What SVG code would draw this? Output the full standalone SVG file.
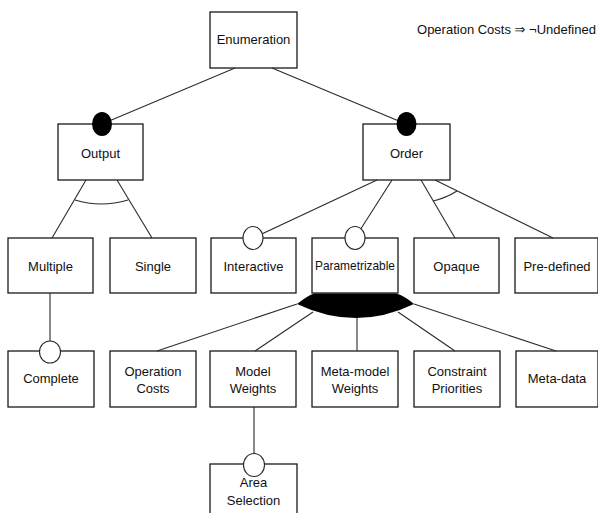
<svg xmlns="http://www.w3.org/2000/svg" width="598" height="513" viewBox="0 0 598 513">
<style>
.box{fill:#fff;stroke:#1a1a1a;stroke-width:1.3}
.lbl{font-family:"Liberation Sans","DejaVu Sans",Arial,sans-serif;font-size:13px;fill:#111;text-anchor:middle}
.ln{stroke:#2a2a2a;stroke-width:1.1;fill:none}
.opt{fill:#fff;stroke:#2a2a2a;stroke-width:1.1}
.man{fill:#000;stroke:none}
</style>
<rect width="598" height="513" fill="#fff"/>
<text class="lbl" x="506.5" y="33.5">Operation Costs ⇒ ¬Undefined</text>
<g id="enumeration"><rect class="box" x="210" y="12" width="87" height="56"/><text class="lbl" x="253.5" y="44">Enumeration</text></g>
<g id="output"><rect class="box" x="58" y="124" width="85" height="56"/><text class="lbl" x="100.5" y="157.5">Output</text></g>
<g id="order"><rect class="box" x="363" y="124" width="87" height="56"/><text class="lbl" x="406.5" y="157.5">Order</text></g>
<g id="multiple"><rect class="box" x="8" y="238" width="85" height="55"/><text class="lbl" x="50.5" y="270.5">Multiple</text></g>
<g id="single"><rect class="box" x="110" y="238" width="86" height="55"/><text class="lbl" x="153" y="270.5">Single</text></g>
<g id="interactive"><rect class="box" x="211" y="238" width="85" height="55"/><text class="lbl" x="253.5" y="270.5">Interactive</text></g>
<g id="parametrizable"><rect class="box" x="312" y="238" width="86" height="55"/><text class="lbl" x="355" y="269.5" textLength="80" lengthAdjust="spacingAndGlyphs">Parametrizable</text></g>
<g id="opaque"><rect class="box" x="414" y="238" width="85" height="55"/><text class="lbl" x="456.5" y="270.5">Opaque</text></g>
<g id="predefined"><rect class="box" x="515" y="238" width="83" height="55"/><text class="lbl" x="557" y="270.5">Pre-defined</text></g>
<g id="complete"><rect class="box" x="8" y="351" width="86" height="56"/><text class="lbl" x="51" y="382.5">Complete</text></g>
<g id="operationcosts"><rect class="box" x="110" y="351" width="86" height="56"/><text class="lbl" x="153" y="375.5">Operation</text><text class="lbl" x="153" y="392.5">Costs</text></g>
<g id="modelweights"><rect class="box" x="210" y="351" width="86" height="56"/><text class="lbl" x="253" y="375.5">Model</text><text class="lbl" x="253" y="392.5">Weights</text></g>
<g id="metamodelweights"><rect class="box" x="312" y="351" width="86" height="56"/><text class="lbl" x="355" y="375.5">Meta-model</text><text class="lbl" x="355" y="392.5">Weights</text></g>
<g id="constraintpriorities"><rect class="box" x="414" y="351" width="86" height="56"/><text class="lbl" x="457" y="375.5">Constraint</text><text class="lbl" x="457" y="392.5">Priorities</text></g>
<g id="metadata"><rect class="box" x="516" y="351" width="82" height="56"/><text class="lbl" x="557" y="382.5">Meta-data</text></g>
<g id="areaselection"><rect class="box" x="210" y="464" width="87" height="60"/><text class="lbl" x="253.5" y="486.5">Area</text><text class="lbl" x="253.5" y="504.5">Selection</text></g>
<g id="connectors">
<line class="ln" x1="235" y1="68" x2="102" y2="124"/>
<line class="ln" x1="272" y1="68" x2="406" y2="124"/>
<line class="ln" x1="86" y1="180" x2="52" y2="238"/>
<line class="ln" x1="117" y1="180" x2="152" y2="238"/>
<path class="ln" d="M75,200 Q101,208 128,200"/>
<line class="ln" x1="377" y1="180" x2="253" y2="238"/>
<line class="ln" x1="392" y1="180" x2="355" y2="238"/>
<line class="ln" x1="421" y1="180" x2="455" y2="238"/>
<line class="ln" x1="435" y1="180" x2="553" y2="238"/>
<path class="ln" d="M433,201 Q446,198 457,191"/>
<line class="ln" x1="50" y1="293" x2="50" y2="352"/>
<line class="ln" x1="297" y1="304" x2="157" y2="351"/>
<line class="ln" x1="313" y1="312" x2="255" y2="351"/>
<line class="ln" x1="357" y1="318" x2="357" y2="351"/>
<line class="ln" x1="398" y1="312" x2="455" y2="351"/>
<line class="ln" x1="414" y1="304" x2="556" y2="351"/>
<line class="ln" x1="254" y1="407" x2="254" y2="465"/>
<path class="man" d="M297,304 Q307,296 314,293.5 L396,293.5 Q405,296 414,304 Q356,332 297,304 Z"/>
<ellipse class="man" cx="102" cy="124" rx="10" ry="12"/>
<ellipse class="man" cx="406.5" cy="124" rx="10" ry="12"/>
<ellipse class="opt" cx="253" cy="238" rx="10" ry="11.5"/>
<ellipse class="opt" cx="355" cy="238" rx="10" ry="11.5"/>
<ellipse class="opt" cx="50" cy="352" rx="10.5" ry="11"/>
<ellipse class="opt" cx="254" cy="465" rx="10.5" ry="11.5"/>
</g>
</svg>
